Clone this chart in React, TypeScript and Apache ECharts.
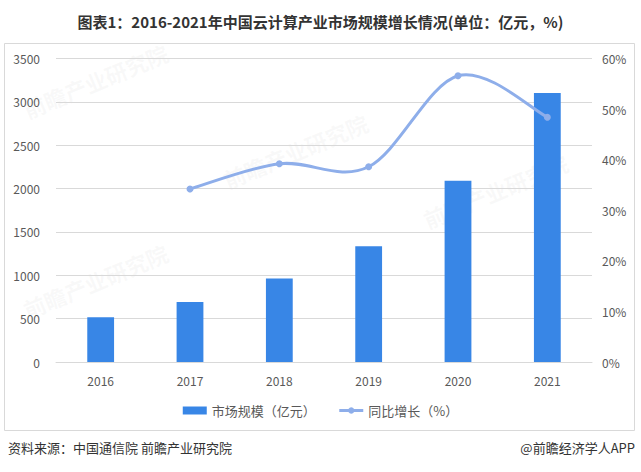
import React, { useEffect, useRef } from "react";
import * as echarts from "echarts";

const years = ["2016", "2017", "2018", "2019", "2020", "2021"];
const marketSize = [515.2, 691.6, 962.8, 1334, 2091, 3102];
const growth = [null, 34.2, 39.2, 38.6, 56.6, 48.4];
const leftTicks = [0, 3500, 500];
const rightTicks = [0, 60, 10];

const FONT = "'Noto Sans CJK SC', 'Noto Sans', sans-serif";
const LINE_COLOR = "#8eaeea";

export default function App() {
  const ref = useRef<HTMLDivElement>(null);
  useEffect(() => {
    if (!ref.current) return;
    const chart = echarts.init(ref.current, null, { renderer: "svg" });
    const wm = (x: number, y: number) => ({
      type: "text",
      x,
      y,
      z: -10,
      rotation: Math.PI / 8,
      silent: true,
      style: {
        text: "前瞻产业研究院",
        font: `bold 22px ${FONT}`,
        fill: "rgba(190,190,190,0.09)",
      },
    });
    chart.setOption({
      animation: false,
      textStyle: { fontFamily: FONT },
      title: {
        text: "图表1：2016-2021年中国云计算产业市场规模增长情况(单位：亿元，%)",
        left: "center",
        top: 9,
        textStyle: { fontSize: 15, fontWeight: "bold", color: "#333", fontFamily: FONT },
      },
      graphic: [
        {
          type: "rect",
          shape: { x: 4.5, y: 43.5, width: 630, height: 387 },
          style: { fill: "none", stroke: "#d9d9d9", lineWidth: 1 },
          silent: true,
        },
        wm(20, 100),
        wm(20, 300),
        wm(220, 170),
        wm(420, 210),
        {
          type: "text",
          left: 8,
          top: 441,
          style: { text: "资料来源：中国通信院 前瞻产业研究院", font: `13px ${FONT}`, fill: "#333" },
        },
        {
          type: "text",
          right: 6,
          top: 441,
          style: { text: "@前瞻经济学人APP", font: `13px ${FONT}`, fill: "#333" },
        },
      ],
      grid: { left: 56, right: 49, top: 58.5, bottom: 110 },
      legend: {
        top: 399,
        left: "center",
        itemGap: 22,
        itemWidth: 24,
        itemHeight: 8,
        textStyle: { fontSize: 13, color: "#595959", fontFamily: FONT },
        data: [
          { name: "市场规模（亿元）", icon: "rect" },
          {
            name: "同比增长（%）",
            lineStyle: { color: LINE_COLOR, width: 3, opacity: 1 },
          },
        ],
      },
      xAxis: {
        type: "category",
        data: years,
        axisLine: { show: true, lineStyle: { color: "#d9d9d9" } },
        axisTick: { show: false },
        axisLabel: { color: "#595959", fontSize: 12, margin: 12 },
      },
      yAxis: [
        {
          type: "value",
          min: leftTicks[0],
          max: leftTicks[1],
          interval: leftTicks[2],
          axisLine: { show: false },
          axisTick: { show: false },
          axisLabel: { color: "#595959", fontSize: 12, margin: 16, formatter: (v: number) => String(v) },
          splitLine: { lineStyle: { color: "#d9d9d9" } },
        },
        {
          type: "value",
          min: rightTicks[0],
          max: rightTicks[1],
          interval: rightTicks[2],
          axisLine: { show: false },
          axisTick: { show: false },
          axisLabel: { color: "#595959", fontSize: 12, margin: 10, formatter: "{value}%" },
          splitLine: { show: false },
        },
      ],
      series: [
        {
          name: "市场规模（亿元）",
          type: "bar",
          data: marketSize,
          barWidth: "30%",
          z: 2,
          itemStyle: { color: "#3886e6" },
        },
        {
          name: "smoothCurve",
          type: "custom",
          yAxisIndex: 1,
          data: [0],
          silent: true,
          z: 5,
          renderItem: (params: any, api: any) => {
            const pts: number[][] = [];
            growth.forEach((g, i) => {
              if (g != null) pts.push(api.coord([i, g]));
            });
            if (pts.length < 2) return null;
            let d = `M${pts[0][0]},${pts[0][1]}`;
            for (let i = 0; i < pts.length - 1; i++) {
              const p0 = pts[Math.max(0, i - 1)];
              const p1 = pts[i];
              const p2 = pts[i + 1];
              const p3 = pts[Math.min(pts.length - 1, i + 2)];
              const c1x = p1[0] + (p2[0] - p0[0]) / 6;
              const c1y = p1[1] + (p2[1] - p0[1]) / 6;
              const c2x = p2[0] - (p3[0] - p1[0]) / 6;
              const c2y = p2[1] - (p3[1] - p1[1]) / 6;
              d += ` C${c1x},${c1y} ${c2x},${c2y} ${p2[0]},${p2[1]}`;
            }
            return {
              type: "path",
              shape: { pathData: d },
              style: { stroke: LINE_COLOR, lineWidth: 3, fill: "none" },
            };
          },
        },
        {
          name: "同比增长（%）",
          type: "line",
          yAxisIndex: 1,
          data: growth,
          z: 6,
          symbol: "circle",
          symbolSize: 7,
          lineStyle: { width: 0, opacity: 0, color: LINE_COLOR },
          itemStyle: { color: LINE_COLOR },
        },
      ],
    });
    return () => chart.dispose();
  }, []);
  return (
    <div
      ref={ref}
      style={{ position: "absolute", left: 0, top: 0, width: 641, height: 472 }}
    />
  );
}
